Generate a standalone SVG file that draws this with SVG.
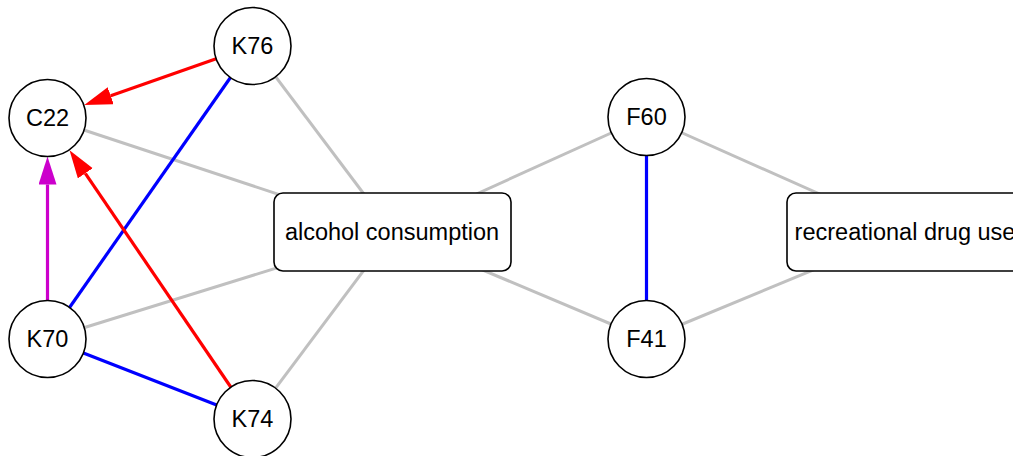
<svg xmlns="http://www.w3.org/2000/svg" width="1013" height="456" viewBox="0 0 1013 456">
<style>
.n circle{fill:#fff;stroke:#000;stroke-width:1.6}
.n rect{fill:#fff;stroke:#000;stroke-width:1.6}
text{font-family:"Liberation Sans",Arial,sans-serif;font-size:23.5px;fill:#000;text-anchor:middle}
.g{stroke:#c0c0c0;stroke-width:3;fill:none}
.b{stroke:#0000ff;stroke-width:3.2;fill:none}
.r{stroke:#ff0000;stroke-width:3.2;fill:none}
.m{stroke:#cc00cc;stroke-width:3.2;fill:none}
</style>
<defs>
<marker id="ar" markerUnits="userSpaceOnUse" markerWidth="30" markerHeight="20" refX="0" refY="9" orient="auto"><path d="M0,0 L28,9 L0,18 z" fill="#ff0000"/></marker>
<marker id="am" markerUnits="userSpaceOnUse" markerWidth="30" markerHeight="20" refX="0" refY="9" orient="auto"><path d="M0,0 L28,9 L0,18 z" fill="#cc00cc"/></marker>
</defs>
<rect width="1013" height="456" fill="#fff"/>
<g id="connectors">
<line class="g" x1="47.5" y1="118" x2="392.5" y2="232"/>
<line class="g" x1="252.5" y1="46" x2="392.5" y2="232"/>
<line class="g" x1="47.5" y1="339" x2="392.5" y2="232"/>
<line class="g" x1="252.5" y1="419" x2="392.5" y2="232"/>
<line class="g" x1="646.5" y1="117" x2="392.5" y2="232"/>
<line class="g" x1="646.5" y1="339" x2="392.5" y2="232"/>
<line class="g" x1="646.5" y1="117" x2="905" y2="232"/>
<line class="g" x1="646.5" y1="339" x2="905" y2="232"/>
<line class="b" x1="252.5" y1="46" x2="47.5" y2="339"/>
<line class="b" x1="47.5" y1="339" x2="252.5" y2="419"/>
<line class="b" x1="646.5" y1="117" x2="646.5" y2="339"/>
<line class="r" x1="252.5" y1="46" x2="110.7" y2="95.8" marker-end="url(#ar)"/>
<line class="r" x1="252.5" y1="419" x2="85.3" y2="173.3" marker-end="url(#ar)"/>
<line class="m" x1="47.5" y1="339" x2="47.5" y2="184.5" marker-end="url(#am)"/>
</g>
<g id="alcohol" class="n"><rect x="274" y="193" width="237" height="78" rx="9"/><text x="392" y="240">alcohol consumption</text></g>
<g id="recreational" class="n"><rect x="787" y="193" width="236" height="78" rx="9"/><text x="905" y="240">recreational drug use</text></g>
<g id="K76" class="n"><circle cx="252.5" cy="46" r="38.5"/><text x="252.5" y="54">K76</text></g>
<g id="C22" class="n"><circle cx="47.5" cy="118" r="38.5"/><text x="47.5" y="126">C22</text></g>
<g id="K70" class="n"><circle cx="47.5" cy="339" r="38.5"/><text x="47.5" y="347">K70</text></g>
<g id="K74" class="n"><circle cx="252.5" cy="419" r="38.5"/><text x="252.5" y="427">K74</text></g>
<g id="F60" class="n"><circle cx="646.5" cy="117" r="38.5"/><text x="646.5" y="125">F60</text></g>
<g id="F41" class="n"><circle cx="646.5" cy="339" r="38.5"/><text x="646.5" y="347">F41</text></g>
</svg>
